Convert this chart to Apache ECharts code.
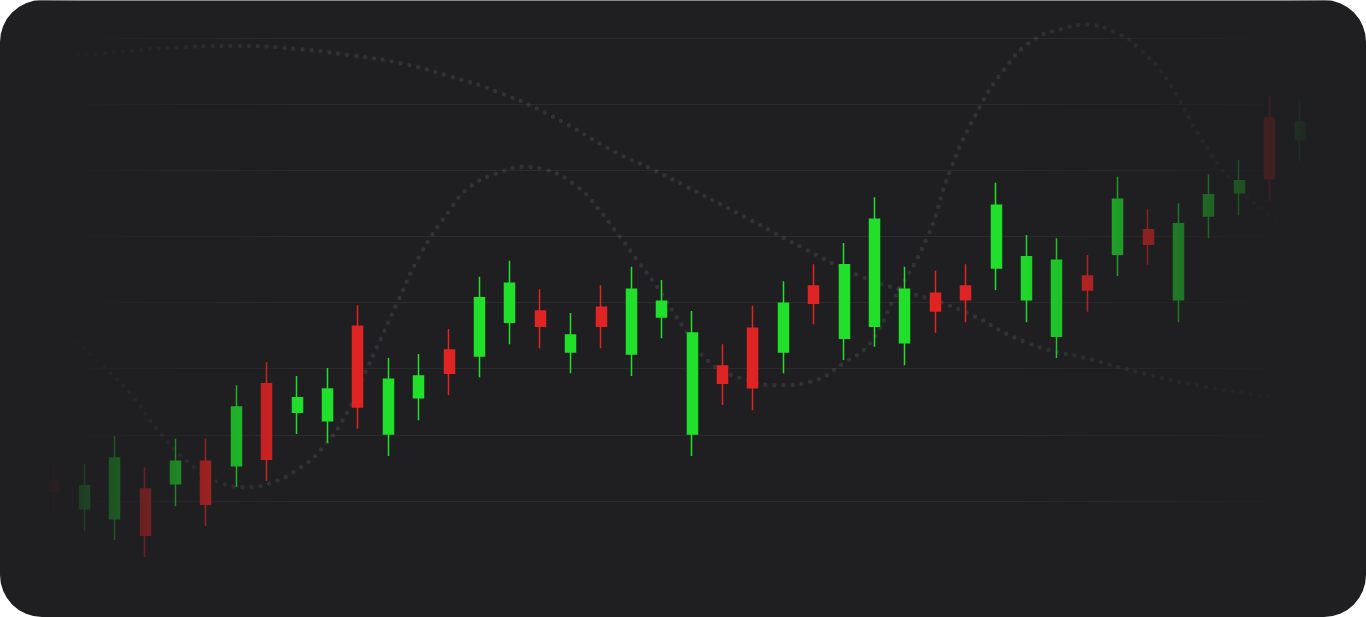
<!DOCTYPE html>
<html>
<head>
<meta charset="utf-8">
<script src="https://cdn.jsdelivr.net/npm/echarts@6/dist/echarts.min.js"></script>
<style>
html,body{margin:0;padding:0;background:#ffffff;width:1366px;height:617px;overflow:hidden}
#card{position:absolute;left:0;top:0;width:1366px;height:617px;background:#1f1f21;border-radius:42px;overflow:hidden}
#card::after{content:'';position:absolute;left:0;right:0;top:0;height:1px;background:linear-gradient(to right,rgba(140,140,140,0.3),#8a8a8a 6%,#8a8a8a 94%,rgba(140,140,140,0.3));z-index:3}
#chart{position:absolute;left:0;top:0;width:1366px;height:617px;
-webkit-mask-image:linear-gradient(to right,rgba(0,0,0,0) 40px,#000 300px,#000 1010px,rgba(0,0,0,0) 1322px);
mask-image:linear-gradient(to right,rgba(0,0,0,0) 40px,#000 300px,#000 1010px,rgba(0,0,0,0) 1322px)}
</style>
</head>
<body>
<div id="card"><div id="chart"></div></div>
<script>
// ---- data ----
const categories = ['1','2','3','4','5','6','7','8','9','10','11','12','13','14','15','16','17','18','19','20','21','22','23','24','25','26','27','28','29','30','31','32','33','34','35','36','37','38','39','40','41','42'];
const opens  = [103.0, 98.8, 97.3,101.8,102.6,106.0,105.3,117.7,113.4,112.1,126.4,110.1,115.6,122.8,121.9,127.0,128.7,122.5,129.3,122.2,127.8,110.1,120.4,126.1,122.5,132.5,124.6,126.4,123.9,131.4,132.5,135.2,130.4,124.9,134.0,137.3,141.0,130.4,143.1,146.6,157.9,154.6];
const closes = [101.5,102.3,106.5, 94.8,106.0, 99.5,114.2,106.3,115.6,116.9,114.2,118.4,118.9,119.3,130.7,132.9,126.4,125.1,126.4,132.0,130.2,125.4,117.8,117.1,129.9,129.9,135.7,142.6,132.0,128.7,130.4,144.7,136.9,136.4,131.9,145.6,138.8,141.9,146.3,148.4,148.7,157.3];
const lows   = [ 98.3, 95.4, 94.1, 91.5, 99.2, 96.2,102.1,103.0,110.1,108.8,110.9,106.8,112.2,116.0,118.7,123.7,123.1,119.3,123.1,118.9,124.6,106.8,114.5,113.7,119.3,126.7,121.3,123.3,120.5,125.4,127.0,131.9,127.0,121.6,128.6,134.0,135.7,127.0,139.7,143.2,145.3,151.4];
const highs  = [106.2,105.6,109.8,105.1,109.4,109.4,117.5,121.0,118.9,120.1,129.6,121.6,122.2,126.0,133.9,136.3,132.0,128.4,132.6,135.4,133.4,128.7,123.7,129.5,133.2,135.8,139.0,145.9,135.4,134.8,135.8,148.1,140.2,139.7,137.2,149.0,144.1,145.0,149.4,151.5,161.2,160.6];

// dotted trend curve (position along the category axis, value)
const trendX = [0.20,2.17,4.15,5.96,8.10,9.74,11.39,13.03,14.68,16.33,18.53,19.62,20.70,22.91,24.79,26.63,27.85,29.82,32.03,34.20,36.08,37.72,40.03];
const trendY = [167.1,167.9,168.6,168.8,168.3,167.4,166.2,164.2,161.7,158.3,152.6,150.3,147.8,142.5,137.9,133.8,131.9,128.9,123.9,121.3,119.0,117.4,115.7];

// dotted wave curve
const waveX = [0.76,1.74,2.50,3.59,4.71,5.37,6.35,7.11,8.00,8.85,9.64,10.17,10.73,11.29,12.05,13.03,13.69,14.68,15.44,16.23,17.22,17.87,18.53,19.19,19.85,20.70,21.49,22.58,23.90,24.88,25.97,26.86,27.62,28.74,29.49,30.32,31.24,32.23,33.34,33.87,34.99,35.75,36.64,37.72,38.81,39.93,40.68];
const waveY = [123.9,119.8,116.3,109.7,104.7,102.9,102.1,102.7,104.7,108.1,113.3,118.7,124.3,129.9,137.2,144.0,147.5,149.7,150.5,150.0,147.5,144.4,140.5,136.4,132.3,126.3,121.3,118.6,117.5,118.0,120.8,123.9,130.4,139.9,150.0,158.3,165.1,169.7,171.6,172.0,170.7,168.2,163.6,155.0,148.1,143.5,141.4];

const yMin = 90, yMax = 170, yStep = 10;

// ---- build ----
const candleData = categories.map((c, i) => [opens[i], closes[i], lows[i], highs[i]]);
const trendData = trendX.map((x, i) => [x, trendY[i]]);
const waveData = waveX.map((x, i) => [x, waveY[i]]);

const UP = '#20e02c', DOWN = '#e02424';
const dotStyle = { color: 'rgba(255,255,255,0.085)', width: 4.4, type: [0, 9], cap: 'round' };

const chart = echarts.init(document.getElementById('chart'), null, { renderer: 'canvas' });
chart.setOption({
  animation: false,
  backgroundColor: 'transparent',
  grid: { left: 38.8, right: 50.8, top: 38, bottom: 50 },
  xAxis: [
    { type: 'category', data: categories, boundaryGap: true,
      axisLine: { show: false }, axisTick: { show: false }, axisLabel: { show: false }, splitLine: { show: false } },
    { type: 'value', min: -0.5, max: categories.length - 0.5, show: false }
  ],
  yAxis: {
    type: 'value', min: yMin, max: yMax, interval: yStep,
    axisLine: { show: false }, axisTick: { show: false }, axisLabel: { show: false },
    splitLine: { show: true, showMinLine: false, lineStyle: { color: 'rgba(255,255,255,0.055)', width: 1 } }
  },
  series: [
    { type: 'line', xAxisIndex: 1, data: trendData, smooth: 0.5, symbol: 'none', clip: false, silent: true,
      lineStyle: dotStyle, z: 1 },
    { type: 'line', xAxisIndex: 1, data: waveData, smooth: 0.5, symbol: 'none', clip: false, silent: true,
      lineStyle: dotStyle, z: 1 },
    { type: 'candlestick', xAxisIndex: 0, data: candleData, barWidth: 10.5, z: 2,
      itemStyle: { color: UP, color0: DOWN, borderColor: UP, borderColor0: DOWN, borderWidth: 1.5 } }
  ]
});
</script>
</body>
</html>
